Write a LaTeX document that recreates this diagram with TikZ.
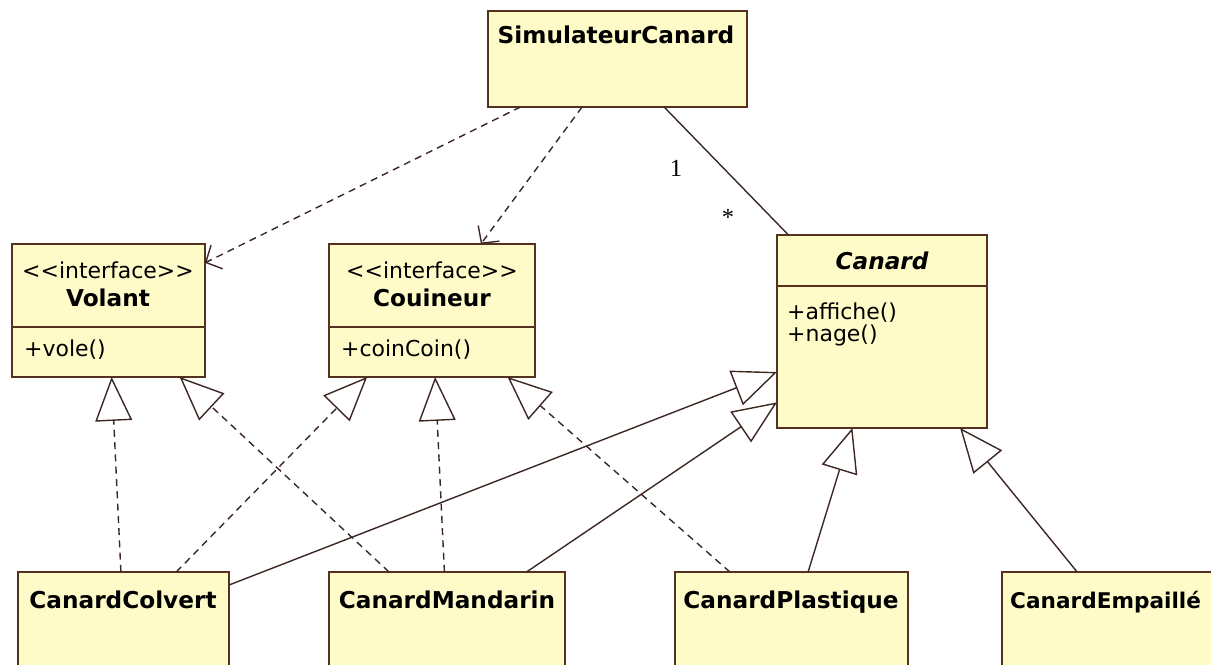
\documentclass[tikz,border=0pt]{standalone}
\usepackage{fontspec}
\setmainfont{DejaVu Sans}
\newfontfamily\chiffres{Liberation Serif}
\usetikzlibrary{arrows.meta}

\definecolor{fond}{RGB}{255,251,200}
\definecolor{bord}{RGB}{85,50,30}
\definecolor{trait}{RGB}{60,40,35}

\tikzset{
  classe/.style={draw=bord, fill=fond, line width=1.1pt, anchor=north west, inner sep=0pt, outer sep=0pt},
  texte/.style={font=\fontsize{12.5}{15}\selectfont},
  titre/.style={font=\fontsize{13.2}{15}\selectfont\bfseries, text height=0.75em, text depth=0.25em},
  abstrait/.style={font=\fontsize{13.2}{15}\selectfont\bfseries\itshape, text height=0.75em, text depth=0.25em},
  sep/.style={draw=bord, line width=1.1pt},
  lien/.style={draw=trait, line width=0.8pt},
  realise/.style={lien, dash pattern=on 4pt off 3pt, -{Triangle[open, length=25pt, width=21pt]}},
  herite/.style={lien, -{Triangle[open, length=25pt, width=21pt]}},
  depend/.style={lien, dash pattern=on 4pt off 3pt, -{Straight Barb[length=7pt, width=15pt]}},
}

\begin{document}
\begin{tikzpicture}
[x=0.02cm, y=-0.02cm]
\useasboundingbox (0,0) rectangle (1211,665);
\clip (0,0) rectangle (1211,665);

% classes
\node[classe, minimum width=5.18cm, minimum height=1.92cm] (simulateur) at (488,11) {};
\node[titre] (simulateurnom) at (616,39) {SimulateurCanard};

\node[classe, minimum width=3.86cm, minimum height=2.66cm] (volant) at (12,244) {};
\node[texte] (volantstereo) at (108,270) {{<}{<}interface{>}{>}};
\node[titre] (volantnom) at (108,302) {Volant};
\draw[sep] (volant.west |- 0,327) -- (volant.east |- 0,327);
\node[texte, anchor=west] (volantop) at (18,350) {+vole()};

\node[classe, minimum width=4.12cm, minimum height=2.66cm] (couineur) at (329,244) {};
\node[texte] (couineurstereo) at (432,270) {{<}{<}interface{>}{>}};
\node[titre] (couineurnom) at (432,302) {Couineur};
\draw[sep] (couineur.west |- 0,327) -- (couineur.east |- 0,327);
\node[texte, anchor=west] (couineurop) at (335,350) {+coinCoin()};

\node[classe, minimum width=4.2cm, minimum height=3.86cm] (canard) at (777,235) {};
\node[abstrait] (canardnom) at (882,265) {Canard};
\draw[sep] (canard.west |- 0,286) -- (canard.east |- 0,286);
\node[texte, anchor=west] (canardop1) at (781,313) {+affiche()};
\node[texte, anchor=west] (canardop2) at (781,335) {+nage()};

\node[classe, minimum width=4.22cm, minimum height=2.16cm] (colvert) at (18,572) {};
\node[titre] (colvertnom) at (123,604) {CanardColvert};
\node[classe, minimum width=4.72cm, minimum height=2.16cm] (mandarin) at (329,572) {};
\node[titre] (mandarinnom) at (447,604) {CanardMandarin};
\node[classe, minimum width=4.66cm, minimum height=2.16cm] (plastique) at (675,572) {};
\node[titre] (plastiquenom) at (791,604) {CanardPlastique};
\node[classe, minimum width=4.76cm, minimum height=2.16cm] (empaille) at (1002,572) {};
\node[titre, font=\fontsize{12.3}{15}\selectfont\bfseries, anchor=west] (empaillenom) at (1004,604) {CanardEmpaillé};

% dependances
\draw[depend] (simulateur) -- (volant);
\draw[depend] (simulateur) -- (couineur);
\draw[lien] (simulateur) -- (canard);
\node[font=\chiffres\fontsize{14}{16}\selectfont] (un) at (676,168) {1};
\node[font=\chiffres\fontsize{14}{16}\selectfont] (plusieurs) at (728,217) {*};

% interfaces
\draw[realise] (colvert) -- (volant);
\draw[realise] (mandarin) -- (volant);
\draw[realise] (colvert) -- (couineur);
\draw[realise] (mandarin) -- (couineur);
\draw[realise] (plastique) -- (couineur);

% heritage
\draw[herite] (colvert) -- (canard);
\draw[herite] (mandarin) -- (canard);
\draw[herite] (plastique) -- (canard);
\draw[herite] (empaille) -- (canard);
\end{tikzpicture}
\end{document}
